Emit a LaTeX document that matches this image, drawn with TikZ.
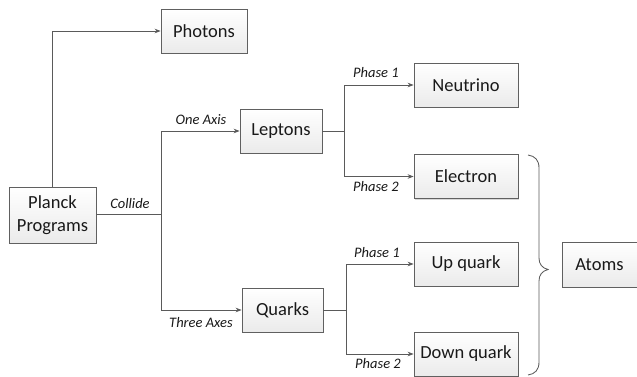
\documentclass[tikz,border=0pt]{standalone}
\usepackage{fontspec}
\setmainfont{Carlito}
\usetikzlibrary{arrows.meta,shadows}
\definecolor{linegray}{HTML}{5A5A5A}
\definecolor{boxborder}{HTML}{606060}
\begin{document}
\begin{tikzpicture}[x=1pt,y=1pt,
  box/.style={draw=boxborder, line width=0.8pt, top color=white, bottom color=black!8,
    drop shadow={shadow xshift=1.4pt, shadow yshift=-1.4pt, fill=black!30, opacity=0.5},
    minimum height=44pt, inner sep=2pt, font=\fontsize{18.5}{22.5}\selectfont, text=black!90},
  conn/.style={draw=linegray, line width=0.85pt},
  arr/.style={conn, -{Stealth[length=6pt,width=4.6pt]}},
  lab/.style={font=\fontsize{14.5}{16}\selectfont\itshape, text=black!90, inner sep=0pt}]
\useasboundingbox (0,0) rectangle (637,-376);
% boxes
\node[box, minimum width=87pt, minimum height=56pt, align=center] (planck) at (52.5,-215) {Planck\\Programs};
\node[box, minimum width=86pt] (photons) at (204,-31) {Photons};
\node[box, minimum width=82pt] (leptons) at (281,-131) {Leptons};
\node[box, minimum width=81pt] (quarks) at (282.5,-310) {Quarks};
\node[box, minimum width=104pt] (neutrino) at (466,-85) {Neutrino};
\node[box, minimum width=104pt] (electron) at (466,-176.5) {Electron};
\node[box, minimum width=104pt] (upquark) at (466,-264) {Up quark};
\node[box, minimum width=104pt] (downquark) at (466,-354) {Down quark};
\node[box, minimum width=75pt, minimum height=45pt] (atoms) at (599.5,-264.5) {Atoms};
% junctions
\coordinate (j1) at (161,-214);
\coordinate (j2) at (344,-131);
\coordinate (j3) at (346,-310);
% connectors
\draw[arr] (planck.north) |- (photons.west);
\draw[conn] (planck.east |- j1) -- (j1);
\draw[arr] (j1) |- (leptons.west);
\draw[arr] (j1) |- (quarks.west);
\draw[conn] (leptons.east) -- (j2);
\draw[arr] (j2) |- (neutrino.west);
\draw[arr] (j2) |- (electron.west);
\draw[conn] (quarks.east) -- (j3);
\draw[arr] (j3) |- (upquark.west);
\draw[arr] (j3) |- (downquark.west);
% labels
\node[lab] (lcollide) at (130,-204) {Collide};
\node[lab] (loneaxis) at (201,-120) {One Axis};
\node[lab] (lthree) at (201,-323) {Three Axes};
\node[lab] (lp1a) at (376,-73) {Phase 1};
\node[lab] (lp2a) at (376,-187) {Phase 2};
\node[lab] (lp1b) at (377,-253) {Phase 1};
\node[lab] (lp2b) at (378,-364) {Phase 2};
% brace
\draw[conn] (528,-155) .. controls (535,-156) and (539,-160) .. (539,-168)
  -- (539,-258) .. controls (539,-264) and (542,-268) .. (548,-269.5)
  .. controls (542,-271) and (539,-275) .. (539,-281)
  -- (539,-362) .. controls (539,-370) and (535,-374) .. (528,-375);
\end{tikzpicture}
\end{document}
